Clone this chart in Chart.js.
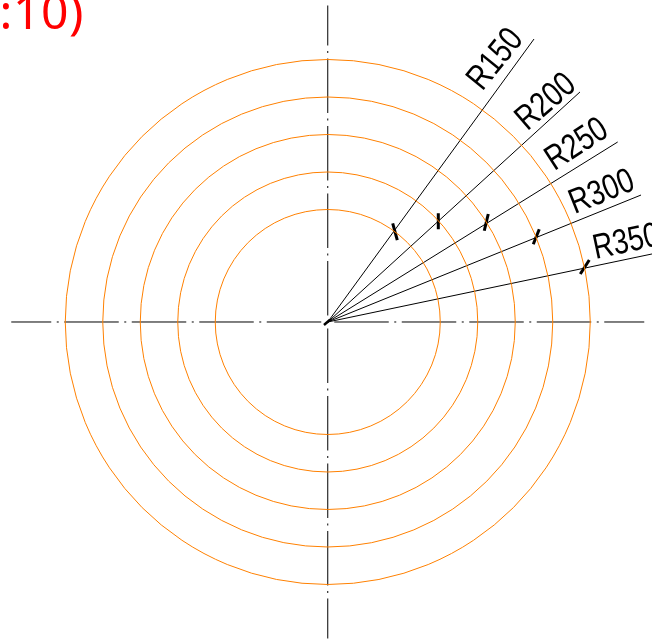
<!DOCTYPE html>
<html>
<head>
<meta charset="utf-8">
<style>
  html, body { margin: 0; padding: 0; background: #fff; overflow: hidden; }
  canvas { display: block; }
</style>
<script src="https://cdn.jsdelivr.net/npm/chart.js@4"></script>
</head>
<body>
<canvas id="myChart" width="652" height="639"></canvas>
<script>
// values are drawing units (mm), centre of the circles is 0,0
const radii = [150, 200, 250, 300, 350];
const labels = ['R150', 'R200', 'R250', 'R300', 'R350'];

const leaderEndX = [275, 336.3, 386.6, 417.7, 432.3];
const leaderEndY = [377.3, 306.7, 240, 169.3, 90.7];

const tickStartX = [86.6, 147.4, 214, 282, 348.7];
const tickStartY = [131.6, 144.9, 144, 123.6, 82.7];
const tickEndX = [92.7, 147.4, 208.7, 274, 336.7];
const tickEndY = [109.3, 123.6, 121.7, 103.6, 64];

const labelX = [206, 266, 302, 329, 357];
const labelY = [307, 254, 201, 144, 84];
const labelAngle = [51, 41, 33, 22, 12];

const centerX = [-422, 422];
const centerY = [422, -422];
const centerMarkX = [-5, 3];
const centerMarkY = [-4, 3];

const scaleTitle = '(1:10)';

const ORANGE = '#ff8000';
const DASH = [54.5, 5.5, 2, 5.5];

const datasets = [];

radii.forEach((r) => {
  datasets.push({
    data: [{ x: 0, y: 0 }],
    showLine: false,
    pointStyle: 'circle',
    pointBackgroundColor: 'rgba(0,0,0,0)',
    pointBorderColor: ORANGE,
    pointBorderWidth: 1,
    pointRadius: (c) => c.chart.scales.x.getPixelForValue(r) - c.chart.scales.x.getPixelForValue(0),
  });
});

datasets.push({
  data: centerX.map((x) => ({ x, y: 0 })),
  showLine: true,
  pointRadius: 0,
  borderColor: '#000',
  borderWidth: 1,
  borderDash: DASH,
  borderDashOffset: 14.5,
});
datasets.push({
  data: centerY.map((y) => ({ x: 0, y })),
  showLine: true,
  pointRadius: 0,
  borderColor: '#000',
  borderWidth: 1,
  borderDash: DASH,
  borderDashOffset: 14.5,
});

radii.forEach((r, i) => {
  datasets.push({
    data: [{ x: 0, y: 0 }, { x: leaderEndX[i], y: leaderEndY[i] }],
    showLine: true,
    pointRadius: 0,
    borderColor: '#000',
    borderWidth: 1,
  });
  datasets.push({
    data: [{ x: tickStartX[i], y: tickStartY[i] }, { x: tickEndX[i], y: tickEndY[i] }],
    showLine: true,
    pointRadius: 0,
    borderColor: '#000',
    borderWidth: 3,
  });
});

datasets.push({
  data: [{ x: centerMarkX[0], y: centerMarkY[0] }, { x: centerMarkX[1], y: centerMarkY[1] }],
  showLine: true,
  pointRadius: 0,
  borderColor: '#000',
  borderWidth: 2.5,
});

const textPlugin = {
  id: 'drawingText',
  afterDatasetsDraw(chart) {
    const { ctx, scales } = chart;
    ctx.save();
    ctx.fillStyle = '#000';
    ctx.textAlign = 'left';
    ctx.textBaseline = 'alphabetic';
    ctx.font = '35px "Liberation Sans"';
    labels.forEach((text, i) => {
      ctx.save();
      ctx.translate(scales.x.getPixelForValue(labelX[i]), scales.y.getPixelForValue(labelY[i]));
      ctx.rotate(-labelAngle[i] * Math.PI / 180);
      ctx.scale(0.8, 1);
      ctx.fillText(text, 0, 0);
      ctx.restore();
    });
    ctx.fillStyle = '#ff0000';
    ctx.textAlign = 'right';
    ctx.font = '48px "Noto Sans"';
    ctx.letterSpacing = '0.6px';
    ctx.fillText(scaleTitle, 84, 29);
    ctx.restore();
  },
};

new Chart(document.getElementById('myChart'), {
  type: 'scatter',
  data: { datasets },
  plugins: [textPlugin],
  options: {
    responsive: false,
    animation: false,
    layout: { padding: 0 },
    plugins: {
      legend: { display: false },
      tooltip: { enabled: false },
      title: { display: false },
    },
    scales: {
      x: { type: 'linear', display: false, min: -437, max: 432.33 },
      y: { type: 'linear', display: false, min: -422.67, max: 429.33 },
    },
  },
});
</script>
</body>
</html>
